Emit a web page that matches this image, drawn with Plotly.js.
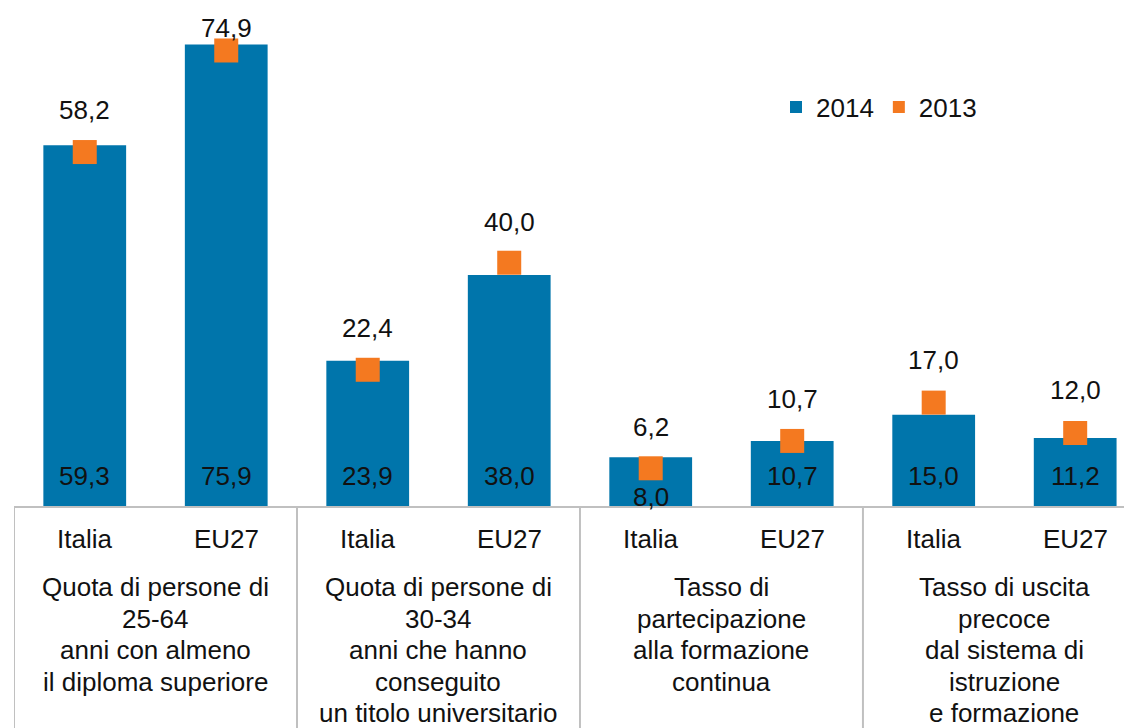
<!DOCTYPE html>
<html>
<head>
<meta charset="utf-8">
<script src="https://cdn.plot.ly/plotly-3.0.1.min.js"></script>
<style>
  html, body { margin: 0; padding: 0; background: #ffffff; overflow: hidden; }
  #chart { width: 1124px; height: 728px; }
</style>
</head>
<body>
<div id="chart"></div>
<script>
// ---- data ----
const categories = ['Italia', 'EU27', 'Italia', 'EU27', 'Italia', 'EU27', 'Italia', 'EU27'];
const values2014 = [59.3, 75.9, 23.9, 38.0, 8.0, 10.7, 15.0, 11.2];
const values2013 = [58.2, 74.9, 22.4, 40.0, 6.2, 10.7, 17.0, 12.0];
const groupLabels = [
  ['Quota di persone di', '25-64', 'anni con almeno', 'il diploma superiore'],
  ['Quota di persone di', '30-34', 'anni che hanno', 'conseguito', 'un titolo universitario'],
  ['Tasso di', 'partecipazione', 'alla formazione', 'continua'],
  ['Tasso di uscita', 'precoce', 'dal sistema di', 'istruzione', 'e formazione']
];
const seriesNames = ['2014', '2013'];

// ---- label placement (pixels, styling only) ----
const topLabelShift = [42, 22, 42, 41, 41, 42, 43, 43];
const baseLabelShift = [30, 30, 30, 30, 9, 30, 30, 30];

const FONT = 'Liberation Sans, Arial, sans-serif';
const FS = 26;
const BLUE = '#0075AB';
const ORANGE = '#F47920';
const GRID = '#C0C0C0';

const fmt = v => v.toFixed(1).replace('.', ',');
const xs = categories.map((c, i) => i);

const traces = [
  {
    type: 'bar', name: seriesNames[0], x: xs, y: values2014,
    width: 0.585, marker: { color: BLUE }, hoverinfo: 'skip'
  },
  {
    type: 'scatter', mode: 'markers', name: seriesNames[1], x: xs, y: values2013,
    marker: { symbol: 'square', size: 24, color: ORANGE }, hoverinfo: 'skip', cliponaxis: false
  }
];

const plotBottom = 506;   // pixel of baseline
const plotH = plotBottom;
const annotations = [];
// 2013 value labels above markers
values2013.forEach((v, i) => {
  annotations.push({
    x: i, y: v, xref: 'x', yref: 'y', text: fmt(v), showarrow: false,
    yanchor: 'middle', yshift: topLabelShift[i],
    font: { family: FONT, size: FS, color: '#111' }
  });
});
// 2014 value labels at the base of bars
values2014.forEach((v, i) => {
  annotations.push({
    x: i, y: 0, xref: 'x', yref: 'y', text: fmt(v), showarrow: false,
    yanchor: 'middle', yshift: baseLabelShift[i],
    font: { family: FONT, size: FS, color: '#111' }
  });
});
// category labels
categories.forEach((c, i) => {
  annotations.push({
    x: i, y: -(539 - plotBottom) / plotH, xref: 'x', yref: 'paper', text: c, showarrow: false,
    yanchor: 'middle', font: { family: FONT, size: FS, color: '#111' }
  });
});
// group labels (one annotation per line)
groupLabels.forEach((lines, g) => {
  lines.forEach((ln, k) => {
    annotations.push({
      x: 2 * g + 0.5, y: -(587 + 31.5 * k - plotBottom) / plotH, xref: 'x', yref: 'paper',
      text: ln, showarrow: false, yanchor: 'middle',
      font: { family: FONT, size: FS, color: '#111' }
    });
  });
});

// table dividers
const shapes = [-0.5, 1.5, 3.5, 5.5].map(xv => ({
  type: 'line', xref: 'x', yref: 'paper', x0: xv, x1: xv, y0: 0, y1: -(728 - plotBottom) / plotH,
  line: { color: GRID, width: 2 }
}));

const layout = {
  width: 1124, height: 728,
  margin: { l: 14, r: 0, t: 0, b: 728 - plotBottom, pad: 0 },
  paper_bgcolor: '#ffffff', plot_bgcolor: '#ffffff',
  font: { family: FONT, size: FS, color: '#111' },
  showlegend: true,
  legend: {
    orientation: 'h', x: (776 - 14) / 1110, xanchor: 'left',
    y: (plotBottom - 107) / plotH, yanchor: 'middle',
    font: { family: FONT, size: FS, color: '#111' },
    bgcolor: 'rgba(0,0,0,0)', itemsizing: 'constant', traceorder: 'normal'
  },
  xaxis: {
    range: [-0.5, 7.345], showgrid: false, zeroline: false, showticklabels: false,
    ticks: '', showline: true, linecolor: GRID, linewidth: 2, fixedrange: true
  },
  yaxis: {
    range: [0, 83.2], showgrid: false, zeroline: false, showticklabels: false,
    ticks: '', showline: false, fixedrange: true
  },
  annotations: annotations,
  shapes: shapes
};

Plotly.newPlot('chart', traces, layout, { displayModeBar: false, staticPlot: true });
</script>
</body>
</html>
